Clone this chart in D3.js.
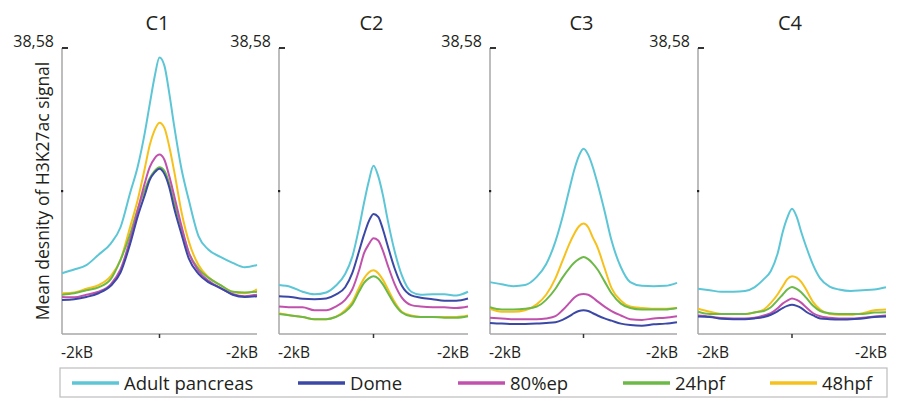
<!DOCTYPE html>
<html>
<head>
<meta charset="utf-8">
<script src="https://cdn.jsdelivr.net/npm/d3@7"></script>
<style>
  html, body { margin: 0; padding: 0; background: #fff; }
  svg { display: block; font-family: "Open Sans", "Noto Sans", sans-serif; }
</style>
</head>
<body>
<svg id="chart" width="897" height="399"></svg>
<script>
// ---------- DATA ----------
const panelNames = ["C1", "C2", "C3", "C4"];
const seriesNames = ["Adult pancreas", "Dome", "80%ep", "24hpf", "48hpf"];
const seriesColors = ["#5cc6d6", "#3b48a6", "#c052ad", "#6cb947", "#f6c11c"];
const yMaxValue = 38.58;
const yTickLabel = "38,58";
const xTickLabels = ["-2kB", "-2kB"];
const yAxisTitle = "Mean desnity of H3K27ac signal";
// distance from TSS/center (bp)
const positions = [-2000,-1750,-1500,-1250,-1000,-800,-600,-450,-300,-200,-100,0,100,200,300,450,600,800,1000,1250,1500,1750,2000];

// C1
const c1Adult = [8.2,8.7,9.3,10.7,12.2,14.4,19.1,22.5,27.2,31.0,34.7,37.3,36.2,32.5,28.1,22.3,18.1,13.2,11.4,10.4,9.6,9.0,9.3];
const c1Dome  = [4.6,4.7,5.0,5.5,6.5,8.3,12.2,15.8,18.8,20.8,21.8,22.3,21.6,19.8,17.0,13.5,10.2,8.1,7.0,6.2,5.3,5.0,5.1];
const c1Ep80  = [5.0,4.95,5.3,5.7,6.7,8.7,12.8,16.6,20.4,22.5,23.7,24.2,23.5,21.3,18.7,14.6,11.0,8.5,7.2,6.2,5.4,5.1,5.3];
const c1H24   = [5.3,5.5,5.9,6.3,7.4,10.0,13.5,16.8,19.5,21.0,22.0,22.5,22.0,20.3,17.8,14.3,11.0,8.8,7.6,6.6,5.7,5.6,5.7];
const c1H48   = [5.5,5.6,6.1,6.6,7.8,10.0,14.5,18.0,22.4,25.5,27.5,28.5,27.8,25.3,22.0,16.5,12.5,9.3,7.7,6.6,5.7,5.5,6.0];
// C2
const c2Adult = [6.6,6.35,5.7,5.35,5.6,6.5,8.1,10.4,14.5,17.7,20.6,22.7,21.3,18.7,15.4,11.1,7.9,5.7,5.3,5.35,5.35,5.2,5.7];
const c2Dome  = [5.1,5.0,4.75,4.7,4.8,5.3,6.3,8.2,11.3,13.4,15.2,16.2,15.8,14.1,11.9,8.8,6.5,5.2,4.9,4.7,4.5,4.5,4.8];
const c2Ep80  = [3.7,3.6,3.6,3.2,3.2,3.7,4.6,6.0,8.7,10.9,12.1,12.9,12.6,11.2,9.3,6.7,4.9,3.9,3.7,3.6,3.6,3.5,3.7];
const c2H24   = [2.7,2.5,2.3,2.0,2.0,2.3,3.0,4.0,5.8,6.9,7.5,7.8,7.5,6.7,5.6,4.0,2.9,2.4,2.3,2.3,2.2,2.2,2.4];
const c2H48   = [2.8,2.5,2.3,2.0,2.0,2.3,3.2,4.3,6.3,7.5,8.3,8.6,8.2,7.3,6.1,4.3,3.0,2.5,2.3,2.3,2.3,2.3,2.5];
// C3
const c3Adult = [7.0,6.7,6.45,6.6,7.7,9.4,12.5,15.75,19.6,22.1,24.0,25.0,24.2,22.5,20.3,16.6,12.6,9.0,7.0,6.5,6.45,6.5,6.9];
const c3Dome  = [1.5,1.4,1.35,1.35,1.4,1.5,1.6,1.9,2.4,2.8,3.1,3.2,3.1,2.8,2.5,2.1,1.8,1.4,1.2,1.1,1.3,1.4,1.6];
const c3Ep80  = [2.2,2.1,2.0,2.0,2.0,2.1,2.4,3.2,4.2,4.9,5.3,5.4,5.3,4.9,4.4,3.7,3.1,2.5,2.0,1.9,2.1,2.2,2.4];
const c3H24   = [3.6,3.3,3.3,3.4,3.7,4.6,6.1,7.6,8.9,9.6,10.1,10.4,10.1,9.5,8.7,7.1,5.5,4.1,3.5,3.3,3.3,3.3,3.5];
const c3H48   = [3.4,3.0,3.0,3.2,4.0,5.3,7.5,9.85,12.2,13.5,14.5,14.9,14.4,13.0,11.7,8.9,6.2,4.5,3.7,3.5,3.4,3.4,3.5];
// C4
const c4Adult = [6.1,5.9,5.7,5.7,5.8,6.3,7.4,8.5,11.0,13.7,15.7,16.9,15.8,13.7,11.8,9.3,7.5,6.4,6.0,5.8,5.9,6.0,6.3];
const c4Dome  = [2.35,2.3,2.05,2.0,2.0,2.1,2.3,2.6,3.1,3.5,3.8,3.95,3.8,3.5,3.0,2.5,2.1,2.0,1.95,2.0,2.1,2.3,2.35];
const c4Ep80  = [2.5,2.35,2.15,2.1,2.1,2.2,2.5,2.8,3.5,4.1,4.5,4.8,4.6,4.2,3.6,2.8,2.4,2.2,2.1,2.1,2.2,2.35,2.5];
const c4H24   = [3.0,2.7,2.7,2.7,2.7,2.9,3.1,3.6,4.6,5.3,6.0,6.35,6.1,5.6,4.9,3.8,3.1,2.8,2.7,2.7,2.7,2.9,2.95];
const c4H48   = [3.4,3.0,2.7,2.7,2.7,2.9,3.3,4.2,5.4,6.4,7.4,7.8,7.6,7.0,6.0,4.3,3.3,2.7,2.6,2.6,2.8,3.2,3.3];

const panelSeries = [
  [c1Adult, c1Dome, c1Ep80, c1H24, c1H48],
  [c2Adult, c2Dome, c2Ep80, c2H24, c2H48],
  [c3Adult, c3Dome, c3Ep80, c3H24, c3H48],
  [c4Adult, c4Dome, c4Ep80, c4H24, c4H48]
];

// ---------- LAYOUT ----------
const svg = d3.select("#chart");
const panelX = [[62, 257], [279, 468], [490, 677], [698, 886]];
const yTop = 48, yBottom = 334;
const drawOrder = [0, 4, 3, 2, 1];
const axisGrey = "#a7a7a7";
const textColor = "#231f20";

const y = d3.scaleLinear().domain([0, yMaxValue]).range([yBottom, yTop]);

panelNames.forEach((name, pi) => {
  const [x0, x1] = panelX[pi];
  const x = d3.scaleLinear().domain([positions[0], positions[positions.length - 1]]).range([x0, x1]);
  const g = svg.append("g");

  // y axis line
  g.append("line").attr("x1", x0).attr("x2", x0).attr("y1", y(yMaxValue)).attr("y2", yBottom)
    .attr("stroke", axisGrey).attr("stroke-width", 1.5);
  // x axis line
  g.append("line").attr("x1", x0).attr("x2", x1).attr("y1", yBottom).attr("y2", yBottom)
    .attr("stroke", axisGrey).attr("stroke-width", 1.5);
  // top tick
  g.append("line").attr("x1", x0).attr("x2", x0 + 6).attr("y1", y(yMaxValue)).attr("y2", y(yMaxValue))
    .attr("stroke", "#333").attr("stroke-width", 2);
  // mid tick (dot)
  g.append("rect").attr("x", x0 - 1).attr("y", y(yMaxValue / 2) - 1).attr("width", 2.2).attr("height", 2.2)
    .attr("fill", "#222");
  // center tick
  g.append("line").attr("x1", x(0)).attr("x2", x(0)).attr("y1", yBottom).attr("y2", yBottom + 4)
    .attr("stroke", "#333").attr("stroke-width", 1.5);

  // y tick label
  g.append("text").attr("x", x0 - 8).attr("y", y(yMaxValue) - 1)
    .attr("text-anchor", "end").attr("font-size", 16).attr("fill", textColor).text(yTickLabel);

  // title
  g.append("text").attr("x", x(0) - 2).attr("y", 30)
    .attr("text-anchor", "middle").attr("font-size", 20).attr("fill", textColor).text(name);

  // x labels
  g.append("text").attr("x", x0 - 1).attr("y", 358).attr("text-anchor", "start")
    .attr("font-size", 15.5).attr("fill", textColor).text(xTickLabels[0]);
  g.append("text").attr("x", x1 + 1).attr("y", 358).attr("text-anchor", "end")
    .attr("font-size", 15.5).attr("fill", textColor).text(xTickLabels[1]);

  // curves
  const line = d3.line().x((d, i) => x(positions[i])).y(d => y(d)).curve(d3.curveMonotoneX);
  drawOrder.forEach(si => {
    g.append("path").datum(panelSeries[pi][si])
      .attr("d", line).attr("fill", "none")
      .attr("stroke", seriesColors[si]).attr("stroke-width", 2)
      .attr("stroke-linejoin", "round");
  });
});

// y axis title
svg.append("text")
  .attr("transform", "translate(49,191) rotate(-90)")
  .attr("text-anchor", "middle").attr("font-size", 17.5).attr("fill", textColor)
  .text(yAxisTitle);

// ---------- LEGEND ----------
const legend = svg.append("g");
legend.append("rect").attr("x", 60).attr("y", 368).attr("width", 827).attr("height", 29)
  .attr("fill", "none").attr("stroke", "#bdbdbd").attr("stroke-width", 1.2);
const legendSwatchX = [72, 298, 458, 623, 770];
const legendSwatchW = 47;
seriesNames.forEach((nm, i) => {
  legend.append("line").attr("x1", legendSwatchX[i]).attr("x2", legendSwatchX[i] + legendSwatchW)
    .attr("y1", 383).attr("y2", 383).attr("stroke", seriesColors[i]).attr("stroke-width", 3.5);
  legend.append("text").attr("x", legendSwatchX[i] + legendSwatchW + 5).attr("y", 389.5)
    .attr("font-size", 18.5).attr("fill", textColor).text(nm);
});
</script>
</body>
</html>
